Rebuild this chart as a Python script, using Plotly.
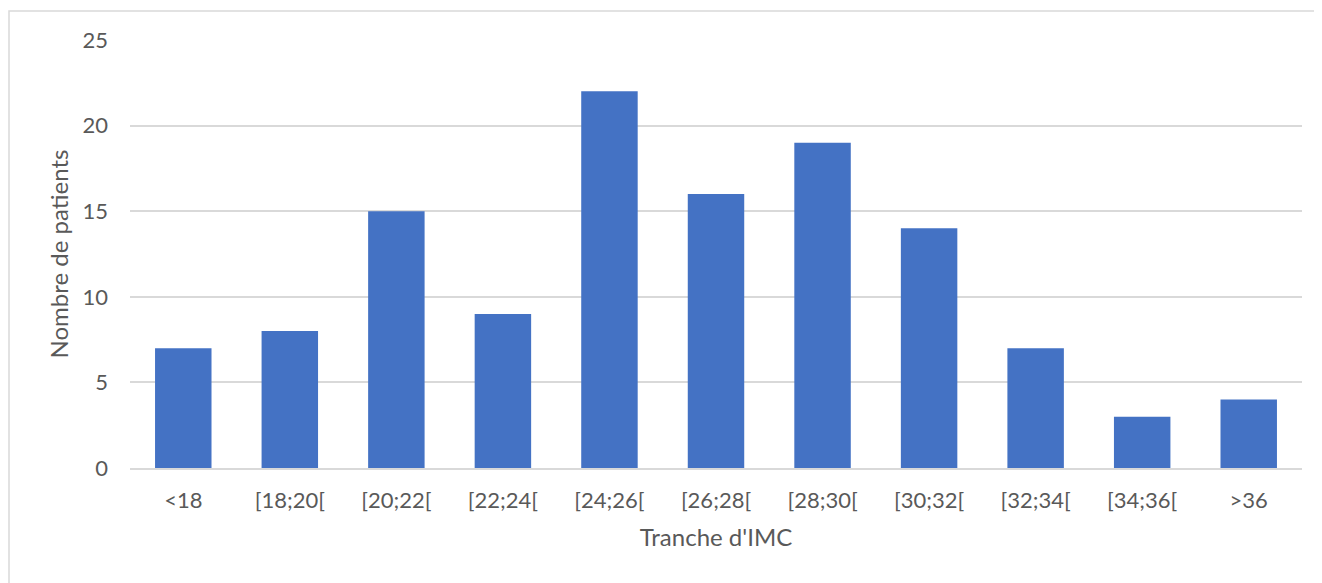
import plotly.graph_objects as go

categories = ["<18", "[18;20[", "[20;22[", "[22;24[", "[24;26[", "[26;28[", "[28;30[", "[30;32[", "[32;34[", "[34;36[", ">36"]
patients = [7, 8, 15, 9, 22, 16, 19, 14, 7, 3, 4]
y_ticks = [0, 5, 10, 15, 20, 25]

# page offset of the figure (default body margin in the html page)
OFF = 8
W, H = 1322, 583
# plot area in page pixels
PL, PR, PT, PB = 130, 1302, 40, 468
ml, mt = PL - OFF, PT - OFF
mr = W - (PR - OFF)
mb = H - (PB - OFF)
pw, ph = PR - PL, PB - PT

fig = go.Figure(go.Bar(x=categories, y=patients, marker=dict(color="#4472C4", line=dict(width=0)), width=0.53))

def px2paper_x(px):
    return (px - PL) / pw

def py2paper_y(py):
    return (PB - py) / ph

fig.update_layout(
    width=W, height=H,
    margin=dict(l=ml, r=mr, t=mt, b=mb),
    paper_bgcolor="white", plot_bgcolor="white",
    font=dict(family="Lato, 'Open Sans', sans-serif", color="#595959", size=22),
    showlegend=False,
    xaxis=dict(
        title=dict(text="Tranche d'IMC", font=dict(size=24, color="#595959"), standoff=17),
        showgrid=False, showline=True, linecolor="#D9D9D9", linewidth=1.5,
        ticks="", tickfont=dict(size=22, color="#595959"), ticklabelstandoff=12,
    ),
    yaxis=dict(
        title=dict(text="Nombre de patients", font=dict(size=24, color="#595959"), standoff=7),
        range=[0, 25], tickvals=y_ticks, showgrid=True, gridcolor="#D9D9D9", gridwidth=1.5,
        zeroline=False, showline=False, ticks="", tickfont=dict(size=22, color="#595959"),
        ticklabelstandoff=21,
    ),
    shapes=[dict(type="rect", xref="paper", yref="paper",
                 x0=px2paper_x(9), x1=px2paper_x(1340), y0=py2paper_y(600), y1=py2paper_y(11),
                 line=dict(color="#D9D9D9", width=1.5), fillcolor="rgba(0,0,0,0)", layer="below")],
)

fig.write_html("out.html")
